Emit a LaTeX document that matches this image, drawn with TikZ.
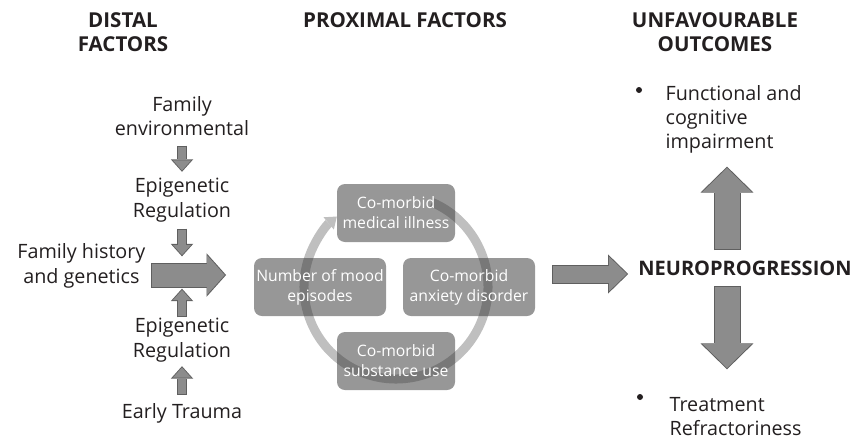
\documentclass[tikz,border=0pt]{standalone}
\usepackage{fontspec}
\setmainfont{Open Sans}
\usetikzlibrary{arrows.meta, positioning, calc}
\definecolor{ink}{RGB}{35,31,32}
\definecolor{boxgray}{RGB}{55,55,55}
\definecolor{ringgray}{RGB}{191,191,191}
\definecolor{arrowfill}{RGB}{140,140,140}
\definecolor{arrowedge}{RGB}{95,95,95}

\tikzset{
  factor/.style={font=\fontsize{14.8}{18.5}\selectfont, text=ink, align=center, inner sep=1pt},
  heading/.style={font=\fontsize{15.4}{18}\selectfont\bfseries, text=ink, align=center, inner sep=1pt},
  outcome/.style={font=\fontsize{14.8}{18}\selectfont, text=ink, align=left, inner sep=1pt},
  bullet/.style={circle, fill=ink, inner sep=0pt, minimum size=4.5pt},
  proxbox/.style={fill=boxgray, fill opacity=0.52, text opacity=1, text=white,
    rounded corners=6pt, minimum height=43.5pt, align=center, inner sep=1pt,
    font=\fontsize{11.8}{15}\selectfont},
  % body width, head width factor, head length factor
  blockarrow/.style args={#1/#2/#3}{draw=arrowfill, line width=#1,
    -{Triangle[width=0pt #2, length=0pt #3, line width=0pt]},
    preaction={draw=arrowedge, line width=#1+1.5pt, shorten <=-0.75pt, shorten >=-1pt,
      -{Triangle[width=0pt #2, length=0pt #3, line width=0pt]}}},
  smallarrow/.style={blockarrow=6pt/2.25/1.25},
  ring/.style={draw=ringgray, line width=6.75pt,
    -{Triangle[width=12pt, length=8pt, line width=0pt]}}
}

\begin{document}
\begin{tikzpicture}[x=0.75pt, y=0.75pt]
  \useasboundingbox (0,0) rectangle (856,-443);

  % column headings
  \node[heading] (distal) at (123,-32) {DISTAL\\FACTORS};
  \node[heading] (proximal) at (405,-20) {PROXIMAL FACTORS};
  \node[heading] (unfav) at (715,-32) {UNFAVOURABLE\\OUTCOMES};

  % distal factors
  \node[factor] (famenv) at (182,-116) {Family\\environmental};
  \node[factor] (epi1) at (182,-200) {Epigenetic\\Regulation};
  \node[factor] (epi2) at (182,-340) {Epigenetic\\Regulation};
  \node[factor] (early) at (182,-413) {Early Trauma};
  \node[factor, anchor=east] (famhist) at (147,-266) {Family history\\and genetics};
  \coordinate (hub) at (182,-275);

  % ring behind the proximal factors
  \coordinate (ringc) at (396,-287);
  \draw[ring] (ringc) ++(67:92) arc[start angle=67, end angle=-230, radius=92];

  % proximal factors
  \node[proxbox, minimum width=88.5pt] (medical) at (396,-213) {Co-morbid\\medical illness};
  \node[proxbox, minimum width=99pt] (mood) at (320,-287) {Number of mood\\episodes};
  \node[proxbox, minimum width=99pt] (anxiety) at (469,-287) {Co-morbid\\anxiety disorder};
  \node[proxbox, minimum width=88.5pt] (substance) at (396,-361) {Co-morbid\\substance use};

  % outcomes
  \node[heading, font=\fontsize{15}{18}\selectfont\bfseries] (neuro) at (745,-268) {NEUROPROGRESSION};
  \node[outcome, anchor=north west] (func) at (664,-84) {Functional and\\cognitive\\impairment};
  \node[outcome, anchor=north west] (treat) at (668,-396) {Treatment\\Refractoriness};
  \node[bullet] (bul1) at (639,-90) {};
  \node[bullet] (bul2) at (640,-397) {};
  \coordinate (outx) at (727,0);
  \coordinate (flowy) at (0,-274);

  % arrows
  \draw[smallarrow] ($(famenv.south)+(0,-9)$) -- ($(epi1.north)+(0,6)$);
  \draw[smallarrow] ($(epi1.south)+(0,-6)$) -- ($(hub)+(0,20)$);
  \draw[smallarrow] ($(epi2.north)+(0,0)$) -- ($(hub)+(0,-15)$);
  \draw[smallarrow] ($(early.north)+(0,8)$) -- ($(epi2.south)+(0,-4)$);
  \draw[blockarrow=17.25pt/1.74/0.78] ($(famhist.east |- hub)+(5,0)$) -- ($(hub -| mood.west)+(-29,0)$);
  \draw[blockarrow=12.75pt/2.06/1.06] ($(anxiety.east |- flowy)+(18,0)$) -- ($(neuro.west |- flowy)+(-10,0)$);
  \draw[blockarrow=18.75pt/1.96/0.96] ($(outx |- neuro.north)+(0,10)$) -- ($(outx |- func.south)+(0,-13)$);
  \draw[blockarrow=18.75pt/1.96/0.96] ($(outx |- neuro.south)+(0,-10)$) -- ($(outx |- treat.north)+(0,28)$);
\end{tikzpicture}
\end{document}
